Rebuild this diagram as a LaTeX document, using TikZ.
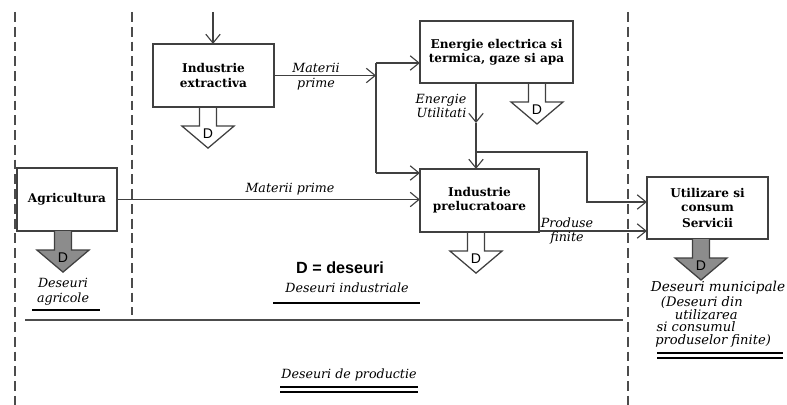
\documentclass[tikz,border=0pt]{standalone}
\usepackage{fontspec}
\setmainfont{DejaVu Serif}
\newfontfamily\dsans{Liberation Sans}
\usetikzlibrary{arrows.meta}
\tikzset{
  box/.style={draw=black!75, line width=0.9pt, inner sep=0pt, outer sep=0pt,
    align=center, font=\bfseries\fontsize{8.6}{10}\selectfont},
  flow/.style={draw=black!75, line width=0.8pt,
    -{Straight Barb[length=0.22cm,width=0.36cm,line width=0.8pt]}},
  zone/.style={draw=black!70, line width=1.1pt, dash pattern=on 7pt off 3.5pt},
  lbl/.style={font=\itshape\fontsize{9}{10.5}\selectfont, align=center, inner sep=0pt},
  dsign/.pic={
    \draw[pic actions, line width=0.9pt, draw=black!75]
      (-8.5,0) -- (-8.5,19) -- (-26,19) -- (0,41) -- (26,19) -- (8.5,19) -- (8.5,0);
    \node[font=\dsans\fontsize{10}{10}\selectfont, inner sep=0pt] at (0,27) {D};
  }
}
\begin{document}
\begin{tikzpicture}[x=0.025cm, y=-0.025cm]
  \useasboundingbox (0,0) rectangle (787,405);
  % zones
  \draw[zone] (15,12) -- (15,405);
  \draw[zone] (132,12) -- (132,315);
  \draw[zone] (628,12) -- (628,405);
  \draw[draw=black!70, line width=1pt] (25,320) -- (623,320);
  % boxes
  \node[box, minimum width=3.03cm, minimum height=1.58cm] (extr) at (213.5,75.5) {Industrie\\extractiva};
  \node[box, minimum width=3.83cm, minimum height=1.55cm] (ener) at (496.5,52) {Energie electrica si\\termica, gaze si apa};
  \node[box, minimum width=2.5cm, minimum height=1.58cm] (agri) at (67,199.5) {Agricultura};
  \node[box, minimum width=2.98cm, minimum height=1.58cm] (prel) at (479.5,200.5) {Industrie\\prelucratoare};
  \node[box, minimum width=3.03cm, minimum height=1.55cm] (util) at (707.5,208) {Utilizare si\\consum\\[2pt]Servicii};
  % helper points
  \coordinate (src) at (213,12);
  \coordinate (fork) at (376,63);
  \coordinate (forkend) at (376,173);
  \coordinate (eu) at (476,123);
  \coordinate (jn) at (476,152);
  \coordinate (bend) at (587,152);
  \coordinate (bend2) at (587,202);
  \coordinate (pf) at (539,231);
  % flows
  \draw[flow] (src) -- (extr.north -| src);
  \draw[flow] (extr.east) -- (extr.east -| fork);
  \draw[draw=black!75, line width=0.8pt] (fork) -- (forkend);
  \draw[flow] (fork) -- (fork -| ener.west);
  \draw[flow] (forkend) -- (forkend -| prel.west);
  \draw[flow] (agri.east) -- (agri.east -| prel.west);
  \draw[flow] (ener.south -| eu) -- (eu);
  \draw[flow] (eu) -- (prel.north -| eu);
  \draw[flow] (jn) -- (bend) -- (bend2) -- (bend2 -| util.west);
  \draw[flow] (pf) -- (pf -| util.west);
  % waste arrows
  \pic at (extr.south -| 208,0) {dsign};
  \pic at (ener.south -| 537,0) {dsign};
  \pic at (prel.south -| 476,0) {dsign};
  \pic[fill=black!45] at (agri.south -| 63,0) {dsign};
  \pic[fill=black!45] at (util.south -| 701,0) {dsign};
  % labels
  \node[lbl] (mp1) at (316,77) {Materii\\prime};
  \node[lbl] (mp2) at (290,189) {Materii prime};
  \node[lbl, align=right] (enu) at (441,106) {Energie\\Utilitati};
  \node[lbl] (pfl) at (567,231) {Produse\\finite};
  \node[font=\dsans\bfseries\fontsize{11.5}{13}\selectfont] (legend) at (340,268) {D = deseuri};
  \node[lbl] (dind) at (347,288) {Deseuri industriale};
  \draw[line width=1.3pt] (273,303) -- (420,303);
  \node[lbl] (dagr) at (63,292) {Deseuri\\agricole};
  \draw[line width=1.3pt] (32,310) -- (100,310);
  \node[lbl] (dprod) at (349,375) {Deseuri de productie};
  \draw[line width=1pt] (280,387) -- (418,387);
  \draw[line width=1pt] (280,392) -- (418,392);
  \node[lbl, font=\itshape\fontsize{9.7}{12}\selectfont] (dmun) at (718,288) {Deseuri municipale};
  \node[lbl, align=left, anchor=north west, font=\itshape\fontsize{9.3}{9.1}\selectfont] (dmun2) at (655,296)
    {\hspace*{4pt}(Deseuri din\\\hspace*{14pt}utilizarea\\\hspace*{1pt}si consumul\\produselor finite)};
  \draw[line width=1pt] (657,353) -- (783,353);
  \draw[line width=1pt] (657,358) -- (783,358);
\end{tikzpicture}
\end{document}
